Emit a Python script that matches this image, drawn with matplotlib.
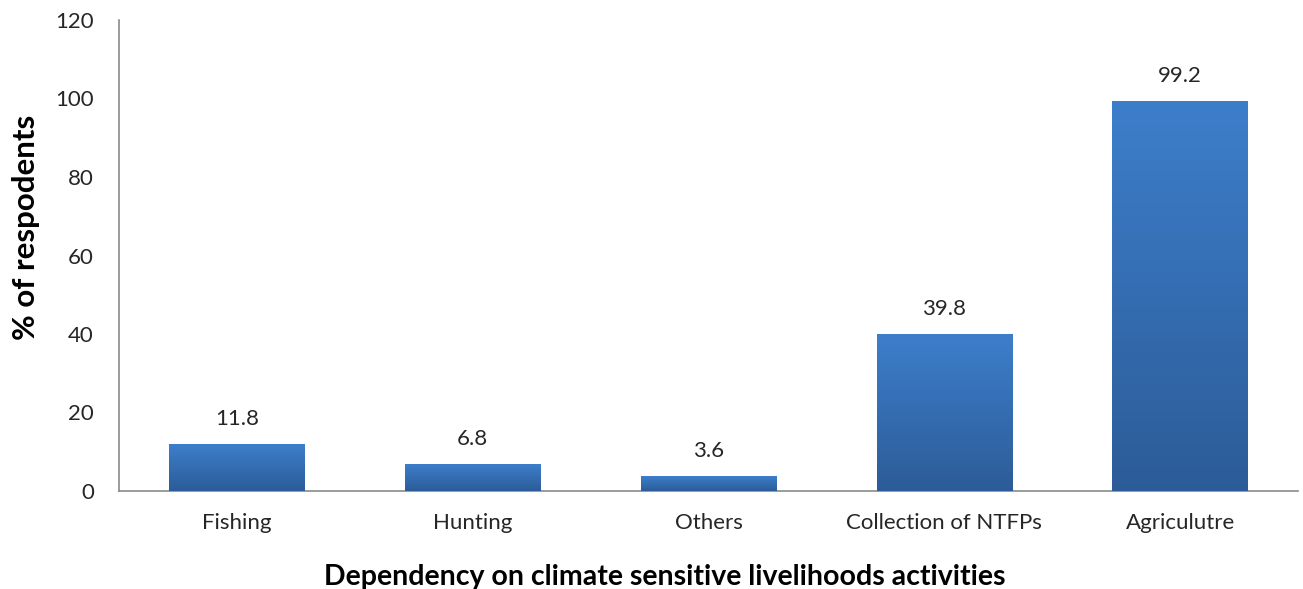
import matplotlib
matplotlib.use("Agg")
import matplotlib.pyplot as plt
import numpy as np
from matplotlib.colors import LinearSegmentedColormap

categories = ["Fishing", "Hunting", "Others", "Collection of NTFPs", "Agriculutre"]
values = [11.8, 6.8, 3.6, 39.8, 99.2]
yticks = [0, 20, 40, 60, 80, 100, 120]

plt.rcParams['font.family'] = ['Lato', 'DejaVu Sans']

fig = plt.figure(figsize=(13.03, 5.89), dpi=100)
ax = fig.add_axes([119 / 1303, 1 - 491 / 589, (1298 - 119) / 1303, (491 - 20) / 589])

x = np.arange(len(categories))
bars = ax.bar(x, values, width=0.575, color="#3470b8", zorder=2)

# gradient fill, lighter on top
cmap = LinearSegmentedColormap.from_list("g", ["#2c5c98", "#3d7ecb"])
grad = np.linspace(0, 1, 256).reshape(-1, 1)
for b in bars:
    x0, w, h = b.get_x(), b.get_width(), b.get_height()
    ax.imshow(grad, extent=[x0, x0 + w, 0, h], origin="lower", cmap=cmap,
              aspect="auto", zorder=3)

for xi, v in zip(x, values):
    ax.text(xi, v + 4.0, f"{v}", ha="center", va="bottom", fontsize=16, color="#262626")

ax.set_xlim(-0.5, len(categories) - 0.5)
ax.set_ylim(0, 120)
ax.set_yticks(yticks)
ax.set_xticks(x)
ax.set_xticklabels(categories)
ax.tick_params(axis="both", length=0, labelsize=16, colors="#262626")
ax.tick_params(axis="y", pad=18)
ax.tick_params(axis="x", pad=16)

for s in ["top", "right"]:
    ax.spines[s].set_visible(False)
for s in ["left", "bottom"]:
    ax.spines[s].set_color("#8a8a8a")
    ax.spines[s].set_linewidth(1.2)

ax.set_ylabel("% of respodents", fontsize=22.5, fontweight="bold")
ax.yaxis.set_label_coords(-0.067, 0.56)
ax.set_xlabel("Dependency on climate sensitive livelihoods activities",
              fontsize=20.5, fontweight="bold")
ax.xaxis.set_label_coords(0.463, -0.155)

fig.savefig("out.png", dpi=100)
